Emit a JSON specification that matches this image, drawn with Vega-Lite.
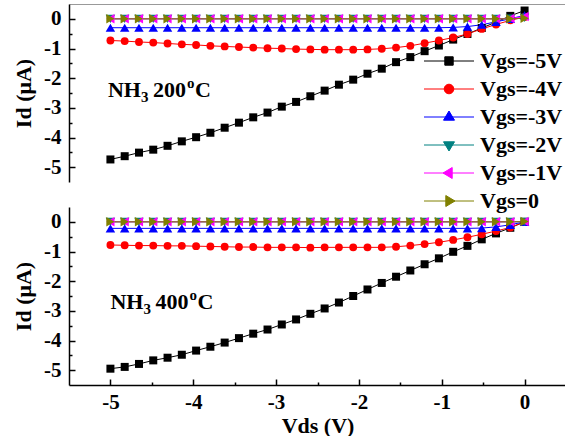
{
  "$schema": "https://vega.github.io/schema/vega-lite/v6.json",
  "autosize": {"type": "pad"},
  "padding": {"left": 12, "top": 4, "right": 0, "bottom": 0},
  "background": "white",
  "config": {
    "view": {"stroke": null},
    "font": "Liberation Serif",
    "concat": {"spacing": 25},
    "axis": {
      "grid": false, "labelOverlap": false,
      "labelFont": "Liberation Serif", "labelFontWeight": "bold", "labelFontSize": 21, "labelColor": "black",
      "titleFont": "Liberation Serif", "titleFontWeight": "bold", "titleFontSize": 22, "titleColor": "black",
      "domainColor": "black", "domainWidth": 1.5, "tickColor": "black", "tickWidth": 1.5
    },
    "legend": {
      "labelFont": "Liberation Serif", "labelFontWeight": "bold", "labelFontSize": 22, "labelColor": "black"
    }
  },
  "data": {"values": [
    {"T":"200","Vds":-5,"n5":-4.74,"n4":-0.73,"n3":-0.30,"n2":0,"n1":0,"n0":0},
    {"T":"200","Vds":-4.8276,"n5":-4.63,"n4":-0.75,"n3":-0.30,"n2":0,"n1":0,"n0":0},
    {"T":"200","Vds":-4.6552,"n5":-4.51,"n4":-0.78,"n3":-0.30,"n2":0,"n1":0,"n0":0},
    {"T":"200","Vds":-4.4828,"n5":-4.41,"n4":-0.80,"n3":-0.30,"n2":0,"n1":0,"n0":0},
    {"T":"200","Vds":-4.3103,"n5":-4.28,"n4":-0.83,"n3":-0.30,"n2":0,"n1":0,"n0":0},
    {"T":"200","Vds":-4.1379,"n5":-4.13,"n4":-0.86,"n3":-0.30,"n2":0,"n1":0,"n0":0},
    {"T":"200","Vds":-3.9655,"n5":-3.99,"n4":-0.88,"n3":-0.30,"n2":0,"n1":0,"n0":0},
    {"T":"200","Vds":-3.7931,"n5":-3.84,"n4":-0.91,"n3":-0.30,"n2":0,"n1":0,"n0":0},
    {"T":"200","Vds":-3.6207,"n5":-3.67,"n4":-0.93,"n3":-0.30,"n2":0,"n1":0,"n0":0},
    {"T":"200","Vds":-3.4483,"n5":-3.50,"n4":-0.95,"n3":-0.30,"n2":0,"n1":0,"n0":0},
    {"T":"200","Vds":-3.2759,"n5":-3.32,"n4":-0.97,"n3":-0.30,"n2":0,"n1":0,"n0":0},
    {"T":"200","Vds":-3.1034,"n5":-3.16,"n4":-0.99,"n3":-0.30,"n2":0,"n1":0,"n0":0},
    {"T":"200","Vds":-2.9310,"n5":-2.96,"n4":-1.00,"n3":-0.30,"n2":0,"n1":0,"n0":0},
    {"T":"200","Vds":-2.7586,"n5":-2.80,"n4":-1.02,"n3":-0.30,"n2":0,"n1":0,"n0":0},
    {"T":"200","Vds":-2.5862,"n5":-2.61,"n4":-1.03,"n3":-0.30,"n2":0,"n1":0,"n0":0},
    {"T":"200","Vds":-2.4138,"n5":-2.42,"n4":-1.04,"n3":-0.30,"n2":0,"n1":0,"n0":0},
    {"T":"200","Vds":-2.2414,"n5":-2.22,"n4":-1.04,"n3":-0.30,"n2":0,"n1":0,"n0":0},
    {"T":"200","Vds":-2.0690,"n5":-2.05,"n4":-1.04,"n3":-0.30,"n2":0,"n1":0,"n0":0},
    {"T":"200","Vds":-1.8966,"n5":-1.85,"n4":-1.03,"n3":-0.30,"n2":0,"n1":0,"n0":0},
    {"T":"200","Vds":-1.7241,"n5":-1.68,"n4":-1.01,"n3":-0.30,"n2":0,"n1":0,"n0":0},
    {"T":"200","Vds":-1.5517,"n5":-1.46,"n4":-0.97,"n3":-0.30,"n2":0,"n1":0,"n0":0},
    {"T":"200","Vds":-1.3793,"n5":-1.29,"n4":-0.91,"n3":-0.30,"n2":0,"n1":0,"n0":0},
    {"T":"200","Vds":-1.2069,"n5":-1.09,"n4":-0.82,"n3":-0.30,"n2":0,"n1":0,"n0":0},
    {"T":"200","Vds":-1.0345,"n5":-0.90,"n4":-0.73,"n3":-0.30,"n2":0,"n1":0,"n0":0},
    {"T":"200","Vds":-0.8621,"n5":-0.70,"n4":-0.63,"n3":-0.29,"n2":0,"n1":0,"n0":0},
    {"T":"200","Vds":-0.6897,"n5":-0.51,"n4":-0.51,"n3":-0.26,"n2":0,"n1":0,"n0":0},
    {"T":"200","Vds":-0.5172,"n5":-0.31,"n4":-0.34,"n3":-0.20,"n2":0,"n1":0,"n0":0},
    {"T":"200","Vds":-0.3448,"n5":-0.11,"n4":-0.19,"n3":-0.10,"n2":0,"n1":0,"n0":0},
    {"T":"200","Vds":-0.1724,"n5":0.10,"n4":-0.05,"n3":0.00,"n2":0.01,"n1":0.01,"n0":0},
    {"T":"200","Vds":0,"n5":0.28,"n4":0.06,"n3":0.12,"n2":0.03,"n1":0.08,"n0":0.02},
    {"T":"400","Vds":-5,"n5":-4.95,"n4":-0.78,"n3":-0.22,"n2":0,"n1":0,"n0":0},
    {"T":"400","Vds":-4.8276,"n5":-4.89,"n4":-0.79,"n3":-0.22,"n2":0,"n1":0,"n0":0},
    {"T":"400","Vds":-4.6552,"n5":-4.79,"n4":-0.80,"n3":-0.22,"n2":0,"n1":0,"n0":0},
    {"T":"400","Vds":-4.4828,"n5":-4.67,"n4":-0.80,"n3":-0.22,"n2":0,"n1":0,"n0":0},
    {"T":"400","Vds":-4.3103,"n5":-4.58,"n4":-0.81,"n3":-0.22,"n2":0,"n1":0,"n0":0},
    {"T":"400","Vds":-4.1379,"n5":-4.48,"n4":-0.81,"n3":-0.22,"n2":0,"n1":0,"n0":0},
    {"T":"400","Vds":-3.9655,"n5":-4.34,"n4":-0.82,"n3":-0.22,"n2":0,"n1":0,"n0":0},
    {"T":"400","Vds":-3.7931,"n5":-4.21,"n4":-0.83,"n3":-0.22,"n2":0,"n1":0,"n0":0},
    {"T":"400","Vds":-3.6207,"n5":-4.07,"n4":-0.84,"n3":-0.22,"n2":0,"n1":0,"n0":0},
    {"T":"400","Vds":-3.4483,"n5":-3.92,"n4":-0.85,"n3":-0.22,"n2":0,"n1":0,"n0":0},
    {"T":"400","Vds":-3.2759,"n5":-3.77,"n4":-0.85,"n3":-0.22,"n2":0,"n1":0,"n0":0},
    {"T":"400","Vds":-3.1034,"n5":-3.63,"n4":-0.86,"n3":-0.22,"n2":0,"n1":0,"n0":0},
    {"T":"400","Vds":-2.9310,"n5":-3.46,"n4":-0.86,"n3":-0.22,"n2":0,"n1":0,"n0":0},
    {"T":"400","Vds":-2.7586,"n5":-3.29,"n4":-0.86,"n3":-0.22,"n2":0,"n1":0,"n0":0},
    {"T":"400","Vds":-2.5862,"n5":-3.10,"n4":-0.87,"n3":-0.22,"n2":0,"n1":0,"n0":0},
    {"T":"400","Vds":-2.4138,"n5":-2.92,"n4":-0.86,"n3":-0.22,"n2":0,"n1":0,"n0":0},
    {"T":"400","Vds":-2.2414,"n5":-2.72,"n4":-0.86,"n3":-0.22,"n2":0,"n1":0,"n0":0},
    {"T":"400","Vds":-2.0690,"n5":-2.50,"n4":-0.86,"n3":-0.22,"n2":0,"n1":0,"n0":0},
    {"T":"400","Vds":-1.8966,"n5":-2.28,"n4":-0.86,"n3":-0.22,"n2":0,"n1":0,"n0":0},
    {"T":"400","Vds":-1.7241,"n5":-2.06,"n4":-0.86,"n3":-0.22,"n2":0,"n1":0,"n0":0},
    {"T":"400","Vds":-1.5517,"n5":-1.85,"n4":-0.84,"n3":-0.22,"n2":0,"n1":0,"n0":0},
    {"T":"400","Vds":-1.3793,"n5":-1.64,"n4":-0.80,"n3":-0.22,"n2":0,"n1":0,"n0":0},
    {"T":"400","Vds":-1.2069,"n5":-1.43,"n4":-0.75,"n3":-0.22,"n2":0,"n1":0,"n0":0},
    {"T":"400","Vds":-1.0345,"n5":-1.23,"n4":-0.69,"n3":-0.22,"n2":0,"n1":0,"n0":0},
    {"T":"400","Vds":-0.8621,"n5":-1.01,"n4":-0.61,"n3":-0.22,"n2":0,"n1":0,"n0":0},
    {"T":"400","Vds":-0.6897,"n5":-0.81,"n4":-0.52,"n3":-0.22,"n2":0,"n1":0,"n0":0},
    {"T":"400","Vds":-0.5172,"n5":-0.59,"n4":-0.42,"n3":-0.21,"n2":0,"n1":0,"n0":0},
    {"T":"400","Vds":-0.3448,"n5":-0.39,"n4":-0.31,"n3":-0.17,"n2":0,"n1":0,"n0":0},
    {"T":"400","Vds":-0.1724,"n5":-0.20,"n4":-0.19,"n3":-0.10,"n2":0,"n1":0,"n0":0},
    {"T":"400","Vds":0,"n5":0.0,"n4":0.0,"n3":0.0,"n2":0,"n1":0.01,"n0":0.01}
  ]},
  "transform": [{"fold": ["n5","n4","n3","n2","n1","n0"], "as": ["Vgs","Id"]}],
  "vconcat": [
    {
      "width": 497, "height": 178,
      "layer": [
        {
          "transform": [{"filter": "datum.T === '200'"}],
          "mark": {"type": "line", "strokeWidth": 1},
          "encoding": {
            "x": {"field": "Vds", "type": "quantitative", "scale": {"domain": [-5.5, 0.5], "nice": false, "zero": false},
                  "axis": {"orient": "top", "labels": false, "ticks": false, "title": null, "domainColor": "#999999", "domainWidth": 1}},
            "y": {"field": "Id", "type": "quantitative", "scale": {"domain": [-5.5, 0.5], "nice": false, "zero": false},
                  "axis": {"title": "Id (μA)", "values": [-5,-4.5,-4,-3.5,-3,-2.5,-2,-1.5,-1,-0.5,0], "tickCount": 50, "labelOverlap": false,
                           "labelExpr": "datum.value % 1 === 0 ? '' + datum.value : ''",
                           "tickSize": {"condition": {"test": "datum.value % 1 !== 0", "value": -3}, "value": -6},
                           "labelPadding": 14, "titlePadding": 8}},
            "color": {"field": "Vgs", "type": "nominal",
                      "scale": {"domain": ["n5","n4","n3","n2","n1","n0"], "range": ["#000000","#ff0000","#0000ff","#008080","#ff00ff","#808000"]}}
          }
        },
        {"transform": [{"filter": "datum.T === '200' && datum.Vgs === 'n5'"}], "mark": {"type": "point", "filled": true, "opacity": 1, "shape": "square", "size": 64},
         "encoding": {"x": {"field": "Vds", "type": "quantitative"}, "y": {"field": "Id", "type": "quantitative"}, "color": {"field": "Vgs", "type": "nominal"}}},
        {"transform": [{"filter": "datum.T === '200' && datum.Vgs === 'n4'"}], "mark": {"type": "point", "filled": true, "opacity": 1, "shape": "circle", "size": 62},
         "encoding": {"x": {"field": "Vds", "type": "quantitative"}, "y": {"field": "Id", "type": "quantitative"}, "color": {"field": "Vgs", "type": "nominal"}}},
        {"transform": [{"filter": "datum.T === '200' && datum.Vgs === 'n3'"}], "mark": {"type": "point", "filled": true, "opacity": 1, "shape": "triangle-up", "size": 90},
         "encoding": {"x": {"field": "Vds", "type": "quantitative"}, "y": {"field": "Id", "type": "quantitative"}, "color": {"field": "Vgs", "type": "nominal"}}},
        {"transform": [{"filter": "datum.T === '200' && datum.Vgs === 'n2'"}], "mark": {"type": "point", "filled": true, "opacity": 1, "shape": "triangle-down", "size": 90},
         "encoding": {"x": {"field": "Vds", "type": "quantitative"}, "y": {"field": "Id", "type": "quantitative"}, "color": {"field": "Vgs", "type": "nominal"}}},
        {"transform": [{"filter": "datum.T === '200' && datum.Vgs === 'n1'"}], "mark": {"type": "point", "filled": true, "opacity": 1, "shape": "triangle-left", "size": 90},
         "encoding": {"x": {"field": "Vds", "type": "quantitative"}, "y": {"field": "Id", "type": "quantitative"}, "color": {"field": "Vgs", "type": "nominal"}}},
        {"transform": [{"filter": "datum.T === '200' && datum.Vgs === 'n0'"}], "mark": {"type": "point", "filled": true, "opacity": 1, "shape": "triangle-right", "size": 90},
         "encoding": {"x": {"field": "Vds", "type": "quantitative"}, "y": {"field": "Id", "type": "quantitative"}, "color": {"field": "Vgs", "type": "nominal"}}},
        {
          "transform": [{"filter": "datum.Id > 100"}],
          "mark": {"type": "point", "filled": true, "opacity": 1},
          "encoding": {
            "x": {"field": "Vds", "type": "quantitative"},
            "y": {"field": "Id", "type": "quantitative"},
            "color": {"field": "Vgs", "type": "nominal",
                      "legend": {
                        "orient": "none", "legendX": 369, "legendY": 46, "title": null, "padding": 0,
                        "symbolSize": 400, "symbolStrokeWidth": 1, "symbolOpacity": 1,
                        "labelOffset": 20, "rowPadding": 6, "labelLimit": 300,
                        "labelExpr": "datum.value === 'n5' ? 'Vgs=-5V' : datum.value === 'n4' ? 'Vgs=-4V' : datum.value === 'n3' ? 'Vgs=-3V' : datum.value === 'n2' ? 'Vgs=-2V' : datum.value === 'n1' ? 'Vgs=-1V' : 'Vgs=0'"
                      }},
            "stroke": {"field": "Vgs", "type": "nominal",
                       "scale": {"domain": ["n5","n4","n3","n2","n1","n0"], "range": ["#000000","#ff0000","#0000ff","#008080","#ff00ff","#808000"]}},
            "shape": {"field": "Vgs", "type": "nominal",
                      "scale": {"domain": ["n5","n4","n3","n2","n1","n0"],
                                "range": [
                                  "M-2.5,0H2.5M-0.42,-0.42H0.42V0.42H-0.42Z",
                                  "M-2.5,0H2.5M0.48,0C0.48,0.265,0.265,0.48,0,0.48C-0.265,0.48,-0.48,0.265,-0.48,0C-0.48,-0.265,-0.265,-0.48,0,-0.48C0.265,-0.48,0.48,-0.265,0.48,0Z",
                                  "M-2.5,0H2.5M0,-0.6L0.55,0.32L-0.55,0.32Z",
                                  "M-2.5,0H2.5M0,0.6L0.55,-0.32L-0.55,-0.32Z",
                                  "M-2.5,0H2.5M-0.6,0L0.32,-0.55L0.32,0.55Z",
                                  "M-2.5,0H2.5M0.6,0L-0.32,-0.55L-0.32,0.55Z"
                                ]}}
          }
        },
        {"data": {"values": [{"x": -5.03, "y": -2.64}]}, "mark": {"type": "text", "text": "NH", "align": "left", "baseline": "alphabetic", "fontSize": 22, "fontWeight": "bold", "font": "Liberation Serif", "color": "black"},
         "encoding": {"x": {"field": "x", "type": "quantitative"}, "y": {"field": "y", "type": "quantitative"}}},
        {"data": {"values": [{"x": -5.03, "y": -2.64}]}, "mark": {"type": "text", "text": "3", "align": "left", "baseline": "alphabetic", "dx": 33, "dy": 5, "fontSize": 15, "fontWeight": "bold", "font": "Liberation Serif", "color": "black"},
         "encoding": {"x": {"field": "x", "type": "quantitative"}, "y": {"field": "y", "type": "quantitative"}}},
        {"data": {"values": [{"x": -5.03, "y": -2.64}]}, "mark": {"type": "text", "text": "200", "align": "left", "baseline": "alphabetic", "dx": 45, "fontSize": 22, "fontWeight": "bold", "font": "Liberation Serif", "color": "black"},
         "encoding": {"x": {"field": "x", "type": "quantitative"}, "y": {"field": "y", "type": "quantitative"}}},
        {"data": {"values": [{"x": -5.03, "y": -2.64}]}, "mark": {"type": "text", "text": "o", "align": "left", "baseline": "alphabetic", "dx": 79, "dy": -9, "fontSize": 15, "fontWeight": "bold", "font": "Liberation Serif", "color": "black"},
         "encoding": {"x": {"field": "x", "type": "quantitative"}, "y": {"field": "y", "type": "quantitative"}}},
        {"data": {"values": [{"x": -5.03, "y": -2.64}]}, "mark": {"type": "text", "text": "C", "align": "left", "baseline": "alphabetic", "dx": 87, "fontSize": 22, "fontWeight": "bold", "font": "Liberation Serif", "color": "black"},
         "encoding": {"x": {"field": "x", "type": "quantitative"}, "y": {"field": "y", "type": "quantitative"}}}
      ]
    },
    {
      "width": 497, "height": 178,
      "layer": [
        {
          "transform": [{"filter": "datum.T === '400'"}],
          "mark": {"type": "line", "strokeWidth": 1},
          "encoding": {
            "x": {"field": "Vds", "type": "quantitative", "scale": {"domain": [-5.5, 0.5], "nice": false, "zero": false},
                  "axis": {"title": "Vds (V)", "values": [-5,-4.5,-4,-3.5,-3,-2.5,-2,-1.5,-1,-0.5,0], "tickCount": 50, "labelOverlap": false,
                           "labelExpr": "datum.value % 1 === 0 ? '' + datum.value : ''",
                           "tickSize": {"condition": {"test": "datum.value % 1 !== 0", "value": -3}, "value": -6},
                           "labelPadding": 12, "titlePadding": 0}},
            "y": {"field": "Id", "type": "quantitative", "scale": {"domain": [-5.5, 0.5], "nice": false, "zero": false},
                  "axis": {"title": "Id (μA)", "values": [-5,-4.5,-4,-3.5,-3,-2.5,-2,-1.5,-1,-0.5,0], "tickCount": 50, "labelOverlap": false,
                           "labelExpr": "datum.value % 1 === 0 ? '' + datum.value : ''",
                           "tickSize": {"condition": {"test": "datum.value % 1 !== 0", "value": -3}, "value": -6},
                           "labelPadding": 14, "titlePadding": 8}},
            "color": {"field": "Vgs", "type": "nominal"}
          }
        },
        {"transform": [{"filter": "datum.T === '400' && datum.Vgs === 'n5'"}], "mark": {"type": "point", "filled": true, "opacity": 1, "shape": "square", "size": 64},
         "encoding": {"x": {"field": "Vds", "type": "quantitative"}, "y": {"field": "Id", "type": "quantitative"}, "color": {"field": "Vgs", "type": "nominal"}}},
        {"transform": [{"filter": "datum.T === '400' && datum.Vgs === 'n4'"}], "mark": {"type": "point", "filled": true, "opacity": 1, "shape": "circle", "size": 62},
         "encoding": {"x": {"field": "Vds", "type": "quantitative"}, "y": {"field": "Id", "type": "quantitative"}, "color": {"field": "Vgs", "type": "nominal"}}},
        {"transform": [{"filter": "datum.T === '400' && datum.Vgs === 'n3'"}], "mark": {"type": "point", "filled": true, "opacity": 1, "shape": "triangle-up", "size": 90},
         "encoding": {"x": {"field": "Vds", "type": "quantitative"}, "y": {"field": "Id", "type": "quantitative"}, "color": {"field": "Vgs", "type": "nominal"}}},
        {"transform": [{"filter": "datum.T === '400' && datum.Vgs === 'n2'"}], "mark": {"type": "point", "filled": true, "opacity": 1, "shape": "triangle-down", "size": 90},
         "encoding": {"x": {"field": "Vds", "type": "quantitative"}, "y": {"field": "Id", "type": "quantitative"}, "color": {"field": "Vgs", "type": "nominal"}}},
        {"transform": [{"filter": "datum.T === '400' && datum.Vgs === 'n1'"}], "mark": {"type": "point", "filled": true, "opacity": 1, "shape": "triangle-left", "size": 90},
         "encoding": {"x": {"field": "Vds", "type": "quantitative"}, "y": {"field": "Id", "type": "quantitative"}, "color": {"field": "Vgs", "type": "nominal"}}},
        {"transform": [{"filter": "datum.T === '400' && datum.Vgs === 'n0'"}], "mark": {"type": "point", "filled": true, "opacity": 1, "shape": "triangle-right", "size": 90},
         "encoding": {"x": {"field": "Vds", "type": "quantitative"}, "y": {"field": "Id", "type": "quantitative"}, "color": {"field": "Vgs", "type": "nominal"}}},
        {"data": {"values": [{"x": -5.0, "y": -2.94}]}, "mark": {"type": "text", "text": "NH", "align": "left", "baseline": "alphabetic", "fontSize": 22, "fontWeight": "bold", "font": "Liberation Serif", "color": "black"},
         "encoding": {"x": {"field": "x", "type": "quantitative"}, "y": {"field": "y", "type": "quantitative"}}},
        {"data": {"values": [{"x": -5.0, "y": -2.94}]}, "mark": {"type": "text", "text": "3", "align": "left", "baseline": "alphabetic", "dx": 33, "dy": 5, "fontSize": 15, "fontWeight": "bold", "font": "Liberation Serif", "color": "black"},
         "encoding": {"x": {"field": "x", "type": "quantitative"}, "y": {"field": "y", "type": "quantitative"}}},
        {"data": {"values": [{"x": -5.0, "y": -2.94}]}, "mark": {"type": "text", "text": "400", "align": "left", "baseline": "alphabetic", "dx": 45, "fontSize": 22, "fontWeight": "bold", "font": "Liberation Serif", "color": "black"},
         "encoding": {"x": {"field": "x", "type": "quantitative"}, "y": {"field": "y", "type": "quantitative"}}},
        {"data": {"values": [{"x": -5.0, "y": -2.94}]}, "mark": {"type": "text", "text": "o", "align": "left", "baseline": "alphabetic", "dx": 79, "dy": -9, "fontSize": 15, "fontWeight": "bold", "font": "Liberation Serif", "color": "black"},
         "encoding": {"x": {"field": "x", "type": "quantitative"}, "y": {"field": "y", "type": "quantitative"}}},
        {"data": {"values": [{"x": -5.0, "y": -2.94}]}, "mark": {"type": "text", "text": "C", "align": "left", "baseline": "alphabetic", "dx": 87, "fontSize": 22, "fontWeight": "bold", "font": "Liberation Serif", "color": "black"},
         "encoding": {"x": {"field": "x", "type": "quantitative"}, "y": {"field": "y", "type": "quantitative"}}}
      ]
    }
  ],
  "resolve": {"scale": {"color": "shared", "stroke": "shared", "shape": "shared"}, "legend": {"color": "shared", "stroke": "shared", "shape": "shared"}}
}
